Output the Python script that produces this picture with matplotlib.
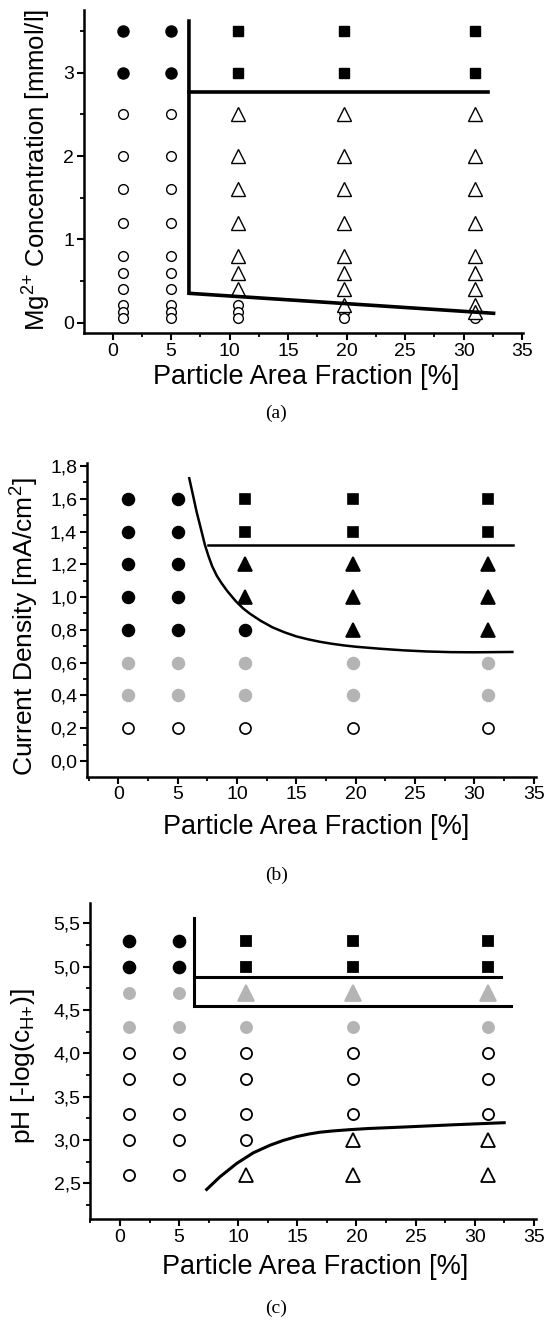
import matplotlib
matplotlib.use("Agg")
import matplotlib.pyplot as plt
from matplotlib.ticker import FixedLocator, FixedFormatter, MultipleLocator

# ---------------- data ----------------
# x tick labels (shared)
x_ticks = [0, 5, 10, 15, 20, 25, 30, 35]
x_ticklabels = ["0", "5", "10", "15", "20", "25", "30", "35"]

# Panel (a): Mg2+ concentration
a_x = [0.9, 5.0, 10.7, 19.75, 31.0]
a_y = [3.5, 3.0, 2.5, 2.0, 1.6, 1.2, 0.8, 0.6, 0.4, 0.21, 0.13, 0.06]
# F=filled black circle, O=open circle, S=black square, T=open triangle
a_class = [
    "FFOOOOOOOOOO",
    "FFOOOOOOOOOO",
    "SSTTTTTTTOOO",
    "SSTTTTTTTTOO",
    "SSTTTTTTTTTO",
]
a_yticks = [0, 1, 2, 3]
a_yticklabels = ["0", "1", "2", "3"]
a_bound1_x = [6.52, 6.52, 32.55]
a_bound1_y = [3.62, 0.353, 0.113]
a_bound2_x = [6.52, 32.1]
a_bound2_y = [2.77, 2.77]

# Panel (b): current density
b_x = [0.85, 5.05, 10.7, 19.75, 31.15]
b_y = [1.6, 1.4, 1.2, 1.0, 0.8, 0.6, 0.4, 0.2]
# G=grey circle, K=black triangle
b_class = [
    "FFFFFGGO",
    "FFFFFGGO",
    "SSKKFGGO",
    "SSKKKGGO",
    "SSKKKGGO",
]
b_yticks = [0.0, 0.2, 0.4, 0.6, 0.8, 1.0, 1.2, 1.4, 1.6, 1.8]
b_yticklabels = ["0,0", "0,2", "0,4", "0,6", "0,8", "1,0", "1,2", "1,4", "1,6", "1,8"]
b_hline_x = [7.58, 33.23]
b_hline_y = [1.318, 1.318]
b_curve_x = [5.98, 6.3, 6.6, 6.95, 7.3, 7.6, 7.9, 8.3, 8.7, 9.2, 9.9, 10.5,
             11.1, 12.0, 13.0, 14.0, 15.0, 16.0, 17.0, 18.0, 19.0, 20.0,
             22.0, 24.0, 26.0, 28.0, 30.0, 33.2]
b_curve_y = [1.725, 1.62, 1.52, 1.42, 1.318, 1.25, 1.19, 1.13, 1.085, 1.035,
             0.975, 0.932, 0.898, 0.855, 0.815, 0.785, 0.76, 0.742, 0.727,
             0.715, 0.705, 0.697, 0.685, 0.675, 0.668, 0.664, 0.663, 0.665]

# Panel (c): pH
c_x = [0.8, 5.0, 10.7, 19.75, 31.1]
c_y = [5.3, 5.0, 4.7, 4.3, 4.0, 3.7, 3.3, 3.0, 2.6]
# H=grey triangle
c_class = [
    "FFGGOOOOO",
    "FFGGOOOOO",
    "SSHGOOOOT",
    "SSHGOOOTT",
    "SSHGOOOTT",
]
c_yticks = [2.5, 3.0, 3.5, 4.0, 4.5, 5.0, 5.5]
c_yticklabels = ["2,5", "3,0", "3,5", "4,0", "4,5", "5,0", "5,5"]
c_bound1_x = [6.28, 6.28, 33.1]
c_bound1_y = [5.56, 4.545, 4.545]
c_bound2_x = [6.28, 32.2]
c_bound2_y = [4.88, 4.88]
c_curve_x = [7.33, 8.46, 9.87, 11.28, 12.69, 13.8, 14.95, 16.0, 16.9, 18.0,
             19.46, 21.0, 23.97, 28.2, 32.5]
c_curve_y = [2.43, 2.576, 2.73, 2.853, 2.94, 2.995, 3.04, 3.07, 3.09, 3.105,
             3.12, 3.133, 3.15, 3.176, 3.20]

# ---------------- style ----------------
plt.rcParams["font.family"] = ["Liberation Sans", "DejaVu Sans"]
plt.rcParams["mathtext.default"] = "regular"

GREY = "#b4b4b4"
STYLE = {
    "F": dict(marker="o", mfc="black", mec="black"),
    "G": dict(marker="o", mfc=GREY, mec=GREY),
    "O": dict(marker="o", mfc="white", mec="black"),
    "S": dict(marker="s", mfc="black", mec="black"),
    "T": dict(marker="^", mfc="white", mec="black"),
    "K": dict(marker="^", mfc="black", mec="black"),
    "H": dict(marker="^", mfc=GREY, mec=GREY),
}

fig = plt.figure(figsize=(5.46, 13.29), dpi=100)


def scatter_grid(ax, xs, ys, classes, sizes, mew):
    for code in STYLE:
        px, py = [], []
        for xi, col in zip(xs, classes):
            for yi, c in zip(ys, col):
                if c == code:
                    px.append(xi)
                    py.append(yi)
        if px:
            ax.plot(px, py, ls="none", ms=sizes.get(code, 8), mew=mew,
                    zorder=2, clip_on=False, **STYLE[code])


def style_axes(ax, xlim, ylim, yticks, yticklabels, yminor, xlabel, ylabel,
               xlab_pos, ylab_pos, ylab_size):
    ax.set_xlim(*xlim)
    ax.set_ylim(*ylim)
    for s in ("top", "right"):
        ax.spines[s].set_visible(False)
    for s in ("left", "bottom"):
        ax.spines[s].set_linewidth(1.8)
    ax.xaxis.set_major_locator(FixedLocator(x_ticks))
    ax.xaxis.set_major_formatter(FixedFormatter(x_ticklabels))
    ax.xaxis.set_minor_locator(MultipleLocator(2.5))
    ax.yaxis.set_major_locator(FixedLocator(yticks))
    ax.yaxis.set_major_formatter(FixedFormatter(yticklabels))
    ax.yaxis.set_minor_locator(MultipleLocator(yminor))
    ax.tick_params(which="major", direction="out", length=5, width=1.5,
                   labelsize=14, pad=2)
    ax.tick_params(which="minor", direction="out", length=2.8, width=1.3)
    ax.set_xlabel(xlabel, fontsize=19.5, va="center")
    ax.set_ylabel(ylabel, fontsize=ylab_size, va="center")
    ax.xaxis.set_label_coords(*xlab_pos)
    ax.yaxis.set_label_coords(*ylab_pos)


# ---- panel (a)
ax_a = fig.add_axes([0.1538, 0.7494, 0.8048, 0.2430])
scatter_grid(ax_a, a_x, a_y, a_class, {"F": 8, "O": 7, "S": 6.5, "T": 10}, 1.0)
ax_a.plot(a_bound1_x, a_bound1_y, color="black", lw=2.6, zorder=3,
          solid_joinstyle="miter")
ax_a.plot(a_bound2_x, a_bound2_y, color="black", lw=2.6, zorder=3)
style_axes(ax_a, (-2.45, 35.1), (-0.124, 3.752), a_yticks, a_yticklabels, 0.5,
           "Particle Area Fraction [%]", "Mg$^{2{+}}$ Concentration [mmol/l]",
           (0.505, -0.136), (-0.107, 0.505), 18.5)

# ---- panel (b)
ax_b = fig.add_axes([0.1590, 0.4156, 0.8218, 0.2360])
scatter_grid(ax_b, b_x, b_y, b_class,
             {"F": 8.5, "G": 8.5, "O": 8, "S": 7.5, "K": 10.5}, 1.2)
ax_b.plot(b_hline_x, b_hline_y, color="black", lw=1.8, zorder=3)
ax_b.plot(b_curve_x, b_curve_y, color="black", lw=1.8, zorder=3,
          solid_joinstyle="round")
style_axes(ax_b, (-2.65, 35.15), (-0.096, 1.818), b_yticks, b_yticklabels, 0.1,
           "Particle Area Fraction [%]", "Current Density [mA/cm$^2$]",
           (0.511, -0.159), (-0.139, 0.477), 19)

# ---- panel (c)
ax_c = fig.add_axes([0.1654, 0.0825, 0.8154, 0.2380])
scatter_grid(ax_c, c_x, c_y, c_class,
             {"F": 8.5, "G": 8, "O": 8, "S": 7.5, "T": 10, "H": 11}, 1.3)
ax_c.plot(c_bound1_x, c_bound1_y, color="black", lw=2.2, zorder=3,
          solid_joinstyle="miter")
ax_c.plot(c_bound2_x, c_bound2_y, color="black", lw=2.2, zorder=3)
ax_c.plot(c_curve_x, c_curve_y, color="black", lw=2.2, zorder=3,
          solid_joinstyle="round")
style_axes(ax_c, (-2.51, 35.15), (2.085, 5.734), c_yticks, c_yticklabels, 0.25,
           "Particle Area Fraction [%]", "pH [-log(c$_{H{+}}$)]",
           (0.505, -0.150), (-0.151, 0.485), 19)

# ---- captions
for label, ypos in (("(a)", 0.689), ("(b)", 0.3416), ("(c)", 0.0158)):
    fig.text(0.506, ypos, label, family=["Liberation Serif", "DejaVu Serif"],
             fontsize=14, ha="center", va="center")

fig.savefig("out.png", dpi=100)
